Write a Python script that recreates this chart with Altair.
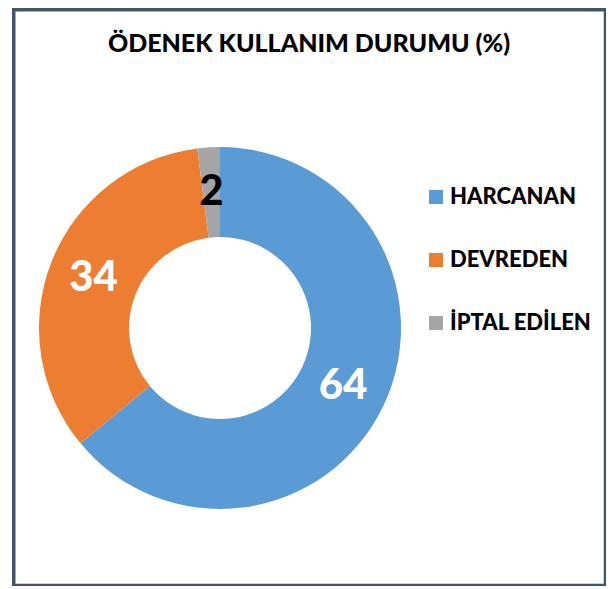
import altair as alt
import pandas as pd

categories = ["HARCANAN", "DEVREDEN", "İPTAL EDİLEN"]
values = [64, 34, 2]
colors = ["#5B9BD5", "#ED7D31", "#A5A5A5"]
label_colors = ["#FFFFFF", "#FFFFFF", "#000000"]

df = pd.DataFrame({
    "kategori": categories,
    "deger": values,
    "sira": list(range(len(categories))),
    "etiket_renk": label_colors,
})

base = alt.Chart(df).encode(
    theta=alt.Theta("deger:Q", stack=True),
    order=alt.Order("sira:Q"),
    x=alt.value(208),
    y=alt.value(320),
)

arc = base.mark_arc(radius=181, radius2=91).encode(
    color=alt.Color(
        "kategori:N",
        scale=alt.Scale(domain=categories, range=colors),
        sort=categories,
        legend=alt.Legend(
            title=None,
            orient="none",
            legendX=413,
            legendY=178,
            symbolType="square",
            symbolSize=196,
            symbolStrokeWidth=0,
            labelFont="Lato",
            labelFontWeight=900,
            labelFontSize=22,
            labelColor="#000000",
            labelOffset=3,
            rowPadding=41,
            padding=0,
        ),
    )
)

text = base.mark_text(
    radius=136, font="Lato", fontWeight=900, fontSize=42
).encode(
    text=alt.Text("deger:Q"),
    color=alt.Color("etiket_renk:N", scale=None),
)

frame = alt.Chart(pd.DataFrame({"f": [0]})).mark_rect(
    filled=False, stroke="#44546A", strokeWidth=3.5
).encode(
    x=alt.value(1.75), x2=alt.value(593.5),
    y=alt.value(1.75), y2=alt.value(577.5),
)

chart = (
    alt.layer(frame, arc, text)
    .properties(
        width=594,
        height=578,
        padding={"left": 4, "top": 0, "right": 0, "bottom": 0},
        autosize=alt.AutoSizeParams(type="none"),
        title=alt.TitleParams(
            "ÖDENEK KULLANIM DURUMU (%)",
            font="Lato",
            fontWeight=900,
            fontSize=25,
            color="#000000",
            anchor="middle",
            offset=0,
            dy=49,
        ),
    )
    .configure_view(stroke=None, fill="white")
    .configure(background="white")
)

chart.save("out.html", embed_options={"renderer": "svg", "actions": False})
